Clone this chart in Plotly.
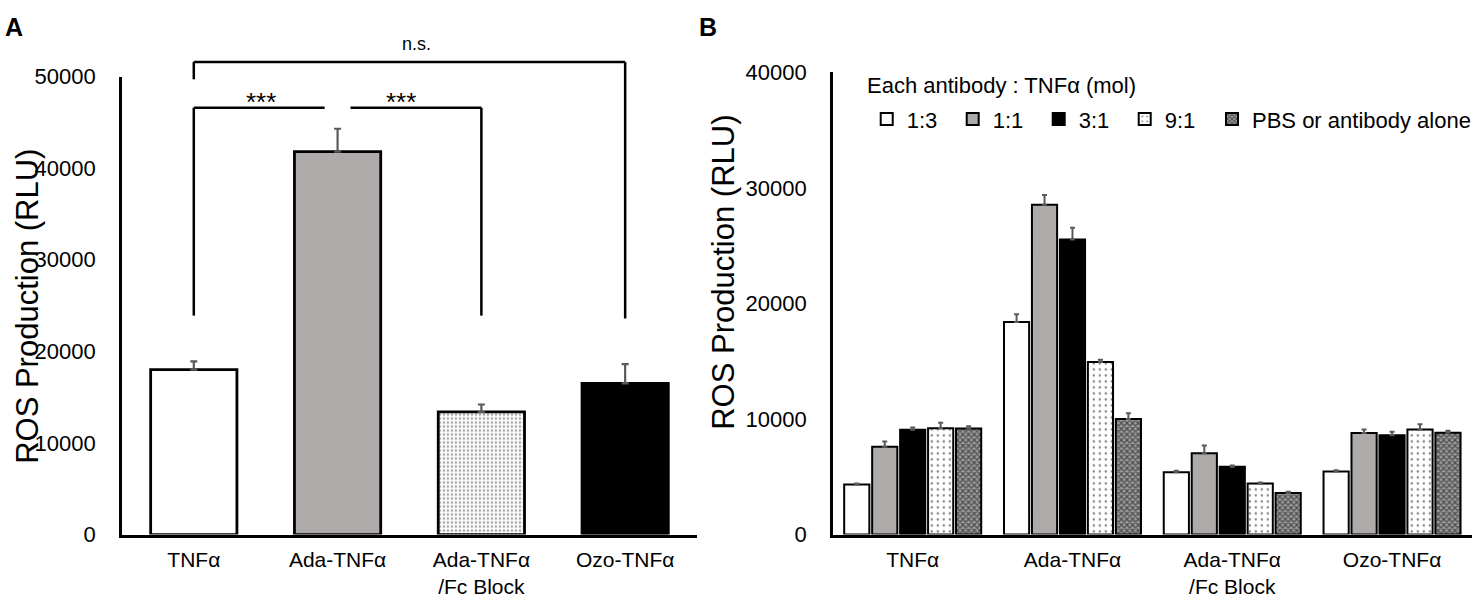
import plotly.graph_objects as go

# ---- data ----
groups = ["TNFα", "Ada-TNFα", "Ada-TNFα<br>/Fc Block", "Ozo-TNFα"]

# panel A
a_values = [18000, 41800, 13400, 16500]
a_errors = [900, 2500, 800, 2100]

# panel B  (antibody : TNFα ratio)
ratios = ["1:3", "1:1", "3:1", "9:1", "PBS or antibody alone"]
b_values = {
    "1:3": [4340, 18400, 5390, 5450],
    "1:1": [7610, 28550, 7030, 8800],
    "3:1": [9070, 25530, 5860, 8600],
    "9:1": [9210, 14940, 4430, 9100],
    "PBS or antibody alone": [9180, 10010, 3600, 8820],
}
b_errors = {
    "1:3": [80, 660, 140, 110],
    "1:1": [440, 830, 690, 300],
    "3:1": [200, 1030, 110, 300],
    "9:1": [470, 190, 80, 440],
    "PBS or antibody alone": [200, 500, 110, 170],
}

FONT = "Liberation Sans, Arial, sans-serif"
ERR_COLOR = "#5a5a5a"

styles = {
    "1:3": dict(color="white", pattern=dict(shape="")),
    "1:1": dict(color="#aeaaaa", pattern=dict(shape="")),
    "3:1": dict(color="black", pattern=dict(shape="")),
    "9:1": dict(color="white", pattern=dict(shape=".", fgcolor="black", bgcolor="white",
                                          size=6, solidity=0.12)),
    "PBS or antibody alone": dict(color="#777777", pattern=dict(shape="x", fgcolor="black",
                                  bgcolor="#9a9a9a", size=4, solidity=0.5)),
}

fig = go.Figure()

# panel A bars
fig.add_trace(go.Bar(
    x=groups, y=a_values, width=0.6, showlegend=False,
    marker=dict(color=["white", "#aeaaaa", "white", "black"],
                line=dict(color="black", width=2.8),
                pattern=dict(shape=["", "", ".", ""], fgcolor="black", bgcolor="white",
                             size=4, solidity=0.3)),
    error_y=dict(type="data", symmetric=False, array=a_errors,
                 arrayminus=[0] * len(a_errors), color=ERR_COLOR, thickness=2.2, width=3.5),
    xaxis="x", yaxis="y",
))

# panel B bars (last one goes in its own legend so its long label is not cut)
for r in ratios:
    fig.add_trace(go.Bar(
        x=groups, y=b_values[r], name=r,
        legend="legend2" if r.startswith("PBS") else "legend",
        marker=dict(color=styles[r]["color"], line=dict(color="black", width=2),
                    pattern=styles[r]["pattern"]),
        error_y=dict(type="data", symmetric=False, array=b_errors[r],
                     arrayminus=[0] * 4, color=ERR_COLOR, thickness=2, width=2.5),
        xaxis="x2", yaxis="y2",
    ))

A_DOM = [0.1021, 0.8891]
A_MAX = 50000


def a_paper(v):
    return A_DOM[0] + v / A_MAX * (A_DOM[1] - A_DOM[0])


# significance brackets on panel A
line = dict(color="black", width=2.5)
shapes = []
brackets = [
    # x0, x1, top, left leg bottom, right leg bottom
    (0, 3, 51600, 49700, 23600),
    (0, 0.91, 46600, 23900, None),
    (1.09, 2, 46600, None, 23900),
]
for x0, x1, top, lb, rb in brackets:
    shapes.append(dict(type="line", xref="x", yref="paper", x0=x0, x1=x1,
                       y0=a_paper(top), y1=a_paper(top), line=line))
    if lb is not None:
        shapes.append(dict(type="line", xref="x", yref="paper", x0=x0, x1=x0,
                           y0=a_paper(top), y1=a_paper(lb), line=line))
    if rb is not None:
        shapes.append(dict(type="line", xref="x", yref="paper", x0=x1, x1=x1,
                           y0=a_paper(top), y1=a_paper(rb), line=line))


def note(text, x, y, size, xref="paper", yref="paper", angle=0, xanchor="center"):
    return dict(text=text, x=x, y=y, xref=xref, yref=yref, textangle=angle,
                xanchor=xanchor, yanchor="middle", showarrow=False,
                font=dict(size=size, color="black"))


annotations = [
    note("***", 0.465, a_paper(47200), 26, xref="x"),
    note("***", 1.444, a_paper(47200), 26, xref="x"),
    note("n.s.", 1.55, a_paper(53600), 18, xref="x"),
    note("ROS Production (RLU)", 0.019, 0.4934, 31, angle=-90),
    note("ROS Production (RLU)", 0.4912, 0.552, 31, angle=-90),
    note("<b>A</b>", 0.0098, 0.9736, 25),
    note("<b>B</b>", 0.4804, 0.9736, 25),
    note("Each antibody : TNFα (mol)", 0.5867, 0.8731, 22, xanchor="left"),
]

xax = dict(type="category", showline=True, linecolor="black", linewidth=2.5,
           ticks="", showgrid=False, zeroline=False, ticklabelstandoff=4,
           tickfont=dict(size=21, color="black"))
yax = dict(showline=True, linecolor="black", linewidth=2.5, ticks="",
           showgrid=False, zeroline=False, ticklabelstandoff=19,
           tickfont=dict(size=22, color="black"), tickformat="d")
leg = dict(orientation="h", xanchor="left", y=0.852, yanchor="top",
           font=dict(size=22), bgcolor="rgba(0,0,0,0)", traceorder="normal")

fig.update_layout(
    width=1476, height=607,
    margin=dict(l=0, r=0, t=0, b=0),
    paper_bgcolor="white", plot_bgcolor="white",
    font=dict(family=FONT, color="black"),
    barmode="group", bargap=0.125, bargroupgap=0.1,
    xaxis=dict(xax, domain=[0.0827, 0.4729], anchor="y"),
    yaxis=dict(yax, domain=A_DOM, range=[0, A_MAX], tickvals=[0, 10000, 20000, 30000, 40000, 50000],
               anchor="x"),
    xaxis2=dict(xax, domain=[0.565, 0.9986], anchor="y2"),
    yaxis2=dict(yax, domain=[0.1021, 0.8962], range=[0, 40000],
                tickvals=[0, 10000, 20000, 30000, 40000], anchor="x2"),
    legend=dict(leg, x=0.588, entrywidth=41),
    legend2=dict(leg, x=0.8225),
    shapes=shapes,
    annotations=annotations,
)

fig.write_html("out.html", config={"displayModeBar": False},
               post_script="document.body.style.margin='0';")
